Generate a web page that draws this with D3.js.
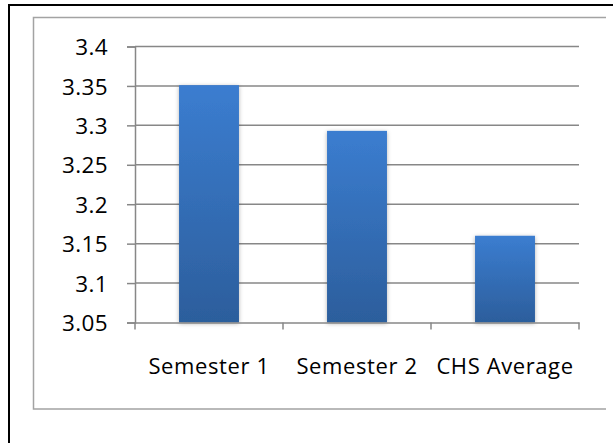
<!DOCTYPE html>
<html>
<head>
<meta charset="utf-8">
<script src="https://cdn.jsdelivr.net/npm/d3@7"></script>
<style>
  body { margin: 0; background: #fff; overflow: hidden; }
  svg { display: block; }
  svg text { font-family: "Open Sans", sans-serif; fill: #000; }
</style>
</head>
<body>
<div id="chart"></div>
<script>
const categories = ["Semester 1", "Semester 2", "CHS Average"];
const values = [3.351, 3.293, 3.160];
const yTicks = [3.05, 3.1, 3.15, 3.2, 3.25, 3.3, 3.35, 3.4];

const width = 613;
const height = 443;

const svg = d3.select("#chart").append("svg")
    .attr("width", width)
    .attr("height", height);

// gradient + soft shadow for bars
const defs = svg.append("defs");
const grad = defs.append("linearGradient")
    .attr("id", "barGrad")
    .attr("x1", 0).attr("y1", 0).attr("x2", 0).attr("y2", 1);
grad.append("stop").attr("offset", "0%").attr("stop-color", "#3b7dd0");
grad.append("stop").attr("offset", "100%").attr("stop-color", "#2c5e9c");

const shadow = defs.append("filter")
    .attr("id", "shadow")
    .attr("x", "-20%").attr("y", "-10%")
    .attr("width", "140%").attr("height", "120%");
shadow.append("feDropShadow")
    .attr("dx", 0).attr("dy", 1)
    .attr("stdDeviation", 2)
    .attr("flood-color", "#000")
    .attr("flood-opacity", 0.3);

// outer black border, only top and left show inside the window
svg.append("path")
    .attr("d", `M9,${height} V5 H${width}`)
    .attr("fill", "none")
    .attr("stroke", "#000")
    .attr("stroke-width", 2);

// chart frame (right side is cut off in the original)
svg.append("path")
    .attr("d", "M606,17.5 H33.5 V409 H606")
    .attr("fill", "none")
    .attr("stroke", "#a3a3a3")
    .attr("stroke-width", 1.5);

const plot = { left: 135, right: 579, top: 46.5, bottom: 322.5 };

const x = d3.scaleBand()
    .domain(categories)
    .range([plot.left, plot.right])
    .paddingInner(0.595)
    .paddingOuter(0.2975);

const y = d3.scaleLinear()
    .domain([3.05, 3.4])
    .range([plot.bottom, plot.top]);

// gridlines
svg.append("g")
    .selectAll("line")
    .data(yTicks.slice(1))
    .join("line")
    .attr("x1", plot.left)
    .attr("x2", plot.right)
    .attr("y1", d => y(d))
    .attr("y2", d => y(d))
    .attr("stroke", "#878787")
    .attr("stroke-width", 1.5);

// bars
svg.append("g")
    .selectAll("rect")
    .data(values)
    .join("rect")
    .attr("x", (d, i) => x(categories[i]))
    .attr("y", d => y(d))
    .attr("width", x.bandwidth())
    .attr("height", d => y(3.05) - y(d))
    .attr("fill", "url(#barGrad)")
    .attr("filter", "url(#shadow)");

// y axis
const yAxis = svg.append("g")
    .attr("transform", `translate(${plot.left},0)`)
    .call(d3.axisLeft(y).tickValues(yTicks).tickSize(8).tickPadding(19)
        .tickFormat(d => String(+d.toFixed(2))));
yAxis.select(".domain").attr("stroke", "#878787").attr("stroke-width", 1.5);
yAxis.selectAll(".tick line").attr("stroke", "#878787").attr("stroke-width", 1.5);
yAxis.selectAll("text")
    .style("font-size", "22.5px")
    .style("letter-spacing", "0.4px")
    .attr("dy", "0.36em");

// x axis
const xAxis = svg.append("g")
    .attr("transform", `translate(0,${plot.bottom})`)
    .call(d3.axisBottom(x).tickSize(0).tickPadding(36));
xAxis.select(".domain").attr("stroke", "#878787").attr("stroke-width", 1.5);
xAxis.selectAll("text")
    .style("font-size", "22px")
    .style("letter-spacing", "0.6px");

// category separator ticks
const sepX = categories.map((c, i) => i === 0 ? plot.left : x(c) - (x.step() - x.bandwidth()) / 2);
sepX.push(plot.right);
svg.append("g")
    .selectAll("line")
    .data(sepX)
    .join("line")
    .attr("x1", d => d).attr("x2", d => d)
    .attr("y1", plot.bottom).attr("y2", plot.bottom + 7)
    .attr("stroke", "#878787")
    .attr("stroke-width", 1.5);
</script>
</body>
</html>
